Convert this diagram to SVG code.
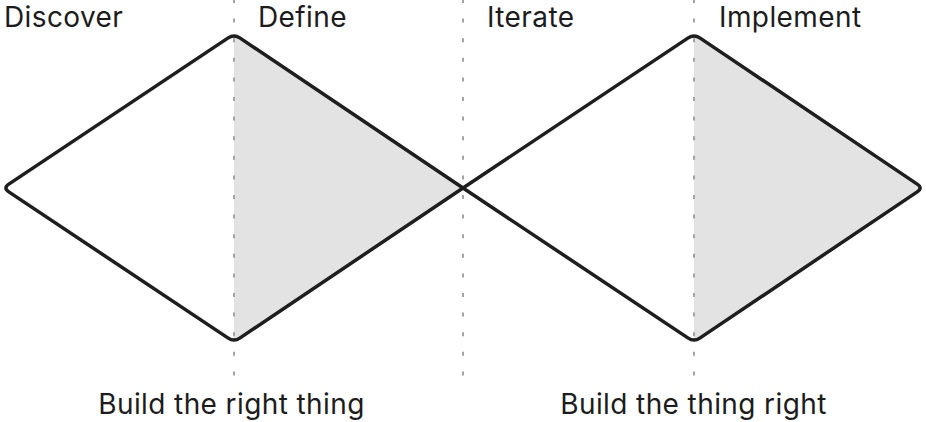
<svg xmlns="http://www.w3.org/2000/svg" width="926" height="422" viewBox="0 0 926 422">
<style>
.lbl{font-family:Inter,"Noto Sans","Liberation Sans",sans-serif;font-size:28px;letter-spacing:0.4px;fill:#1c1c1c}
.guide{stroke:#a3a3a3;stroke-width:2;stroke-dasharray:4 15.6;fill:none}
.dia{fill:none;stroke:#1e1e1e;stroke-width:3.5;stroke-linejoin:round}
.half{fill:#e3e3e3;stroke:none}
</style>
<rect width="926" height="422" fill="#fff"/>
<g id="diamond-1">
<polygon class="half" points="234,34 463,188 234,342"/>
</g>
<g id="diamond-2">
<polygon class="half" points="694,34 922,188 694,342"/>
</g>
<g id="guides">
<line class="guide" x1="234" y1="-1" x2="234" y2="376"/>
<line class="guide" x1="463" y1="-1" x2="463" y2="376"/>
<line class="guide" x1="694" y1="-1" x2="694" y2="376"/>
</g>
<g id="connectors">
<path class="dia" d="M 463,188 L 239.8,37.9 Q 234,34 228.2,37.9 L 8.8,184.1 Q 3,188 8.8,191.9 L 228.2,338.1 Q 234,342 239.8,338.1 Z"/>
<path class="dia" d="M 463,188 L 688.2,37.9 Q 694,34 699.8,37.9 L 917.2,184.1 Q 923,188 917.2,191.9 L 699.8,338.1 Q 694,342 688.2,338.1 Z"/>
</g>
<g id="labels">
<text class="lbl" x="4" y="27">Discover</text>
<text class="lbl" x="258" y="27">Define</text>
<text class="lbl" x="487" y="27">Iterate</text>
<text class="lbl" x="719" y="27">Implement</text>
<text class="lbl" x="231.5" y="414" text-anchor="middle">Build the right thing</text>
<text class="lbl" x="693.5" y="414" text-anchor="middle">Build the thing right</text>
</g>
</svg>
